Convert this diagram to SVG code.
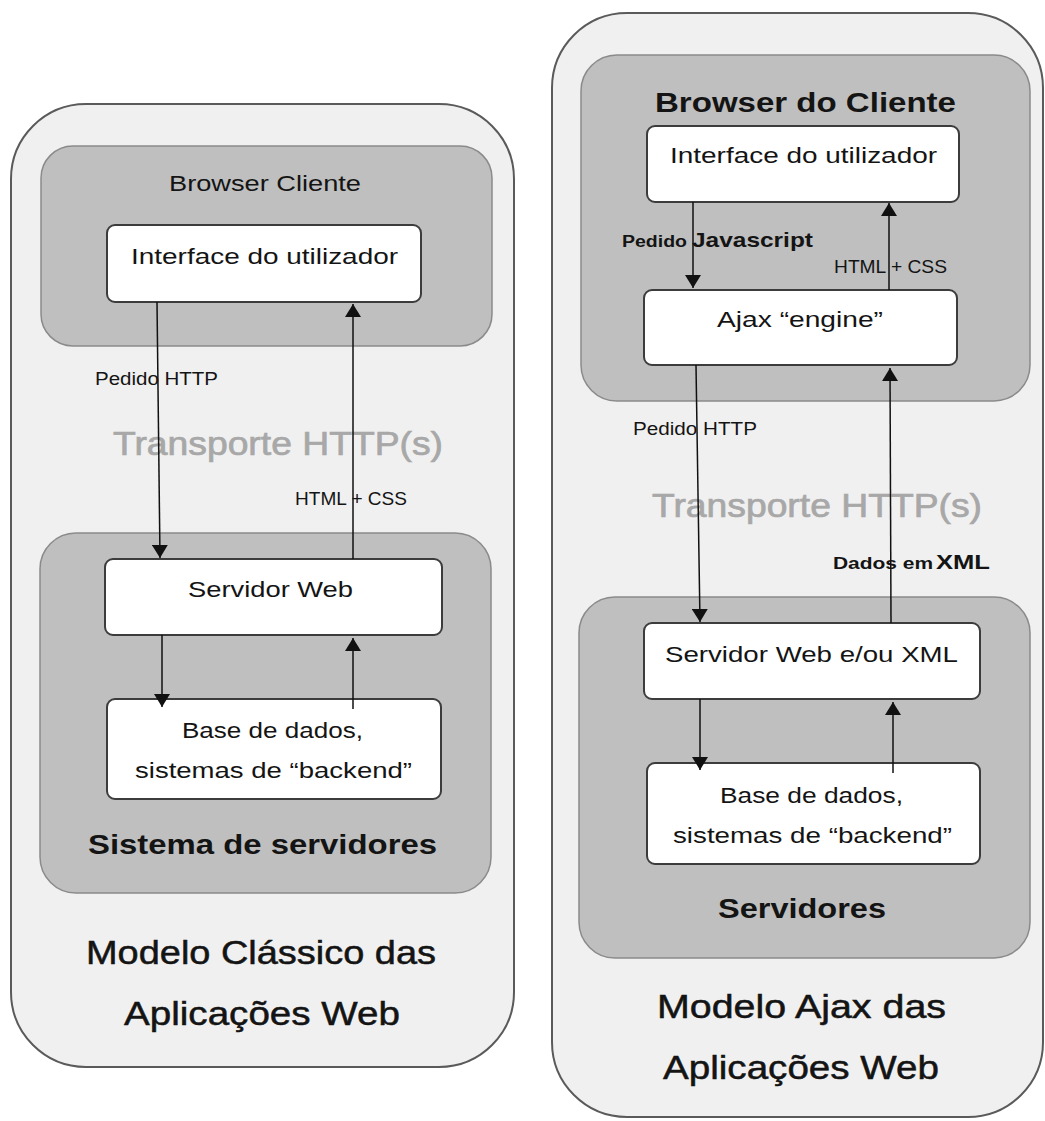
<svg xmlns="http://www.w3.org/2000/svg" width="1045" height="1121" viewBox="0 0 1045 1121">
<style>
.outer{fill:#f0f0f0;stroke:#5a5a5a;stroke-width:2}
.zone{fill:#bfbfbf;stroke:#8a8a8a;stroke-width:1.5}
.box{fill:#ffffff;stroke:#3c3c3c;stroke-width:2}
text{font-family:"Liberation Sans",Arial,sans-serif;fill:#141414}
.t{font-size:22px}
.s{font-size:18px}
.b{font-weight:bold}
.tr{font-size:33px;fill:#a8a8a8;stroke:#a8a8a8;stroke-width:0.7}
.title{font-size:33px;stroke:#141414;stroke-width:0.5}
.conn line{stroke:#111;stroke-width:1.5;marker-end:url(#ah)}
</style>
<defs>
<marker id="ah" markerUnits="userSpaceOnUse" markerWidth="14" markerHeight="16" refX="13" refY="8" orient="auto">
<path d="M0,0 L13,8 L0,16 z" fill="#111"/>
</marker>
</defs>
<rect width="1045" height="1121" fill="#ffffff"/>

<!-- Left model -->
<g id="classic-model">
<rect class="outer" x="11" y="104" width="503" height="963" rx="75" ry="75"/>
<text class="title" x="86" y="964" textLength="350" lengthAdjust="spacingAndGlyphs">Modelo Clássico das</text>
<text class="title" x="124" y="1025" textLength="276" lengthAdjust="spacingAndGlyphs">Aplicações Web</text>
</g>
<g id="classic-browser">
<rect class="zone" x="41" y="146" width="451" height="200" rx="32" ry="32"/>
<text class="t" x="169" y="191" textLength="192" lengthAdjust="spacingAndGlyphs">Browser Cliente</text>
</g>
<g id="classic-ui">
<rect class="box" x="107" y="225" width="314" height="77" rx="8" ry="8"/>
<text class="t" x="131" y="264" textLength="267" lengthAdjust="spacingAndGlyphs">Interface do utilizador</text>
</g>
<g id="classic-servers">
<rect class="zone" x="40" y="533" width="451" height="360" rx="36" ry="36"/>
<text class="b" style="font-size:27px" x="88" y="854" textLength="349" lengthAdjust="spacingAndGlyphs">Sistema de servidores</text>
</g>
<g id="classic-webserver">
<rect class="box" x="105" y="559" width="337" height="76" rx="8" ry="8"/>
<text class="t" x="188" y="597" textLength="165" lengthAdjust="spacingAndGlyphs">Servidor Web</text>
</g>
<g id="classic-db">
<rect class="box" x="107" y="699" width="334" height="100" rx="8" ry="8"/>
<text class="t" x="182" y="738" textLength="181" lengthAdjust="spacingAndGlyphs">Base de dados,</text>
<text class="t" x="135" y="778" textLength="277" lengthAdjust="spacingAndGlyphs">sistemas de “backend”</text>
</g>
<g id="classic-transport">
<text class="tr" x="113" y="455" textLength="330" lengthAdjust="spacingAndGlyphs">Transporte  HTTP(s)</text>
</g>

<!-- Right model -->
<g id="ajax-model">
<rect class="outer" x="552" y="13" width="491" height="1104" rx="75" ry="75"/>
<text class="title" x="657" y="1018" textLength="289" lengthAdjust="spacingAndGlyphs">Modelo Ajax das</text>
<text class="title" x="663" y="1079" textLength="276" lengthAdjust="spacingAndGlyphs">Aplicações Web</text>
</g>
<g id="ajax-browser">
<rect class="zone" x="581" y="55" width="449" height="346" rx="36" ry="36"/>
<text class="b" style="font-size:28px" x="655" y="112" textLength="301" lengthAdjust="spacingAndGlyphs">Browser do Cliente</text>
</g>
<g id="ajax-ui">
<rect class="box" x="647" y="126" width="312" height="76" rx="8" ry="8"/>
<text class="t" x="670" y="163" textLength="267" lengthAdjust="spacingAndGlyphs">Interface do utilizador</text>
</g>
<g id="ajax-engine">
<rect class="box" x="644" y="290" width="313" height="75" rx="8" ry="8"/>
<text class="t" x="717" y="327" textLength="166" lengthAdjust="spacingAndGlyphs">Ajax “engine”</text>
</g>
<g id="ajax-servers">
<rect class="zone" x="579" y="597" width="451" height="361" rx="36" ry="36"/>
<text class="b" style="font-size:27px" x="718" y="918" textLength="168" lengthAdjust="spacingAndGlyphs">Servidores</text>
</g>
<g id="ajax-webserver">
<rect class="box" x="644" y="623" width="336" height="76" rx="8" ry="8"/>
<text class="t" x="665" y="662" textLength="293" lengthAdjust="spacingAndGlyphs">Servidor Web e/ou XML</text>
</g>
<g id="ajax-db">
<rect class="box" x="647" y="763" width="333" height="101" rx="8" ry="8"/>
<text class="t" x="720" y="803" textLength="183" lengthAdjust="spacingAndGlyphs">Base de dados,</text>
<text class="t" x="673" y="843" textLength="279" lengthAdjust="spacingAndGlyphs">sistemas de “backend”</text>
</g>
<g id="ajax-transport">
<text class="tr" x="652" y="517" textLength="330" lengthAdjust="spacingAndGlyphs">Transporte  HTTP(s)</text>
</g>

<!-- Connectors -->
<g id="connectors" class="conn">
<line x1="157" y1="302" x2="160" y2="558"/>
<line x1="353" y1="559" x2="353" y2="304"/>
<line x1="162" y1="635" x2="162" y2="707"/>
<line x1="353" y1="709" x2="353" y2="638"/>
<line x1="693" y1="202" x2="693" y2="288"/>
<line x1="889" y1="290" x2="889" y2="203"/>
<line x1="696" y1="365" x2="700" y2="622"/>
<line x1="891" y1="623" x2="890" y2="368"/>
<line x1="700" y1="699" x2="700" y2="770"/>
<line x1="893" y1="773" x2="893" y2="702"/>
</g>

<!-- Connector labels -->
<g id="connector-labels">
<text class="s" x="95" y="385" textLength="123" lengthAdjust="spacingAndGlyphs">Pedido HTTP</text>
<text class="s" x="295" y="505" textLength="112" lengthAdjust="spacingAndGlyphs">HTML + CSS</text>
<text class="b" style="font-size:16px" x="622" y="247" textLength="65" lengthAdjust="spacingAndGlyphs">Pedido</text>
<text class="b" style="font-size:21px" x="692" y="247" textLength="121" lengthAdjust="spacingAndGlyphs">Javascript</text>
<text class="s" x="834" y="273" textLength="113" lengthAdjust="spacingAndGlyphs">HTML + CSS</text>
<text class="s" x="633" y="435" textLength="124" lengthAdjust="spacingAndGlyphs">Pedido HTTP</text>
<text class="b" style="font-size:16px" x="833" y="569" textLength="100" lengthAdjust="spacingAndGlyphs">Dados em</text>
<text class="b" style="font-size:21px" x="936" y="569" textLength="54" lengthAdjust="spacingAndGlyphs">XML</text>
</g>
</svg>
